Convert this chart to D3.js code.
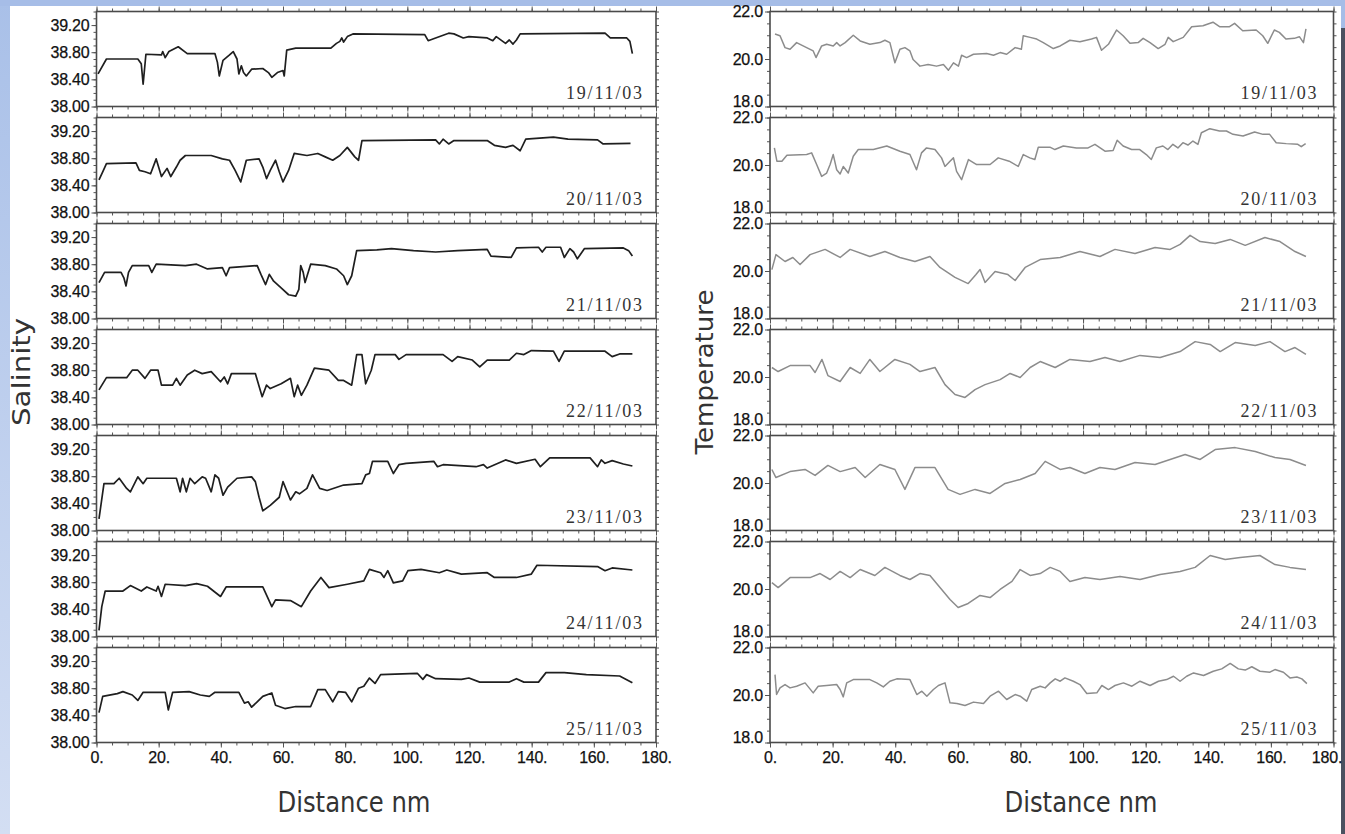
<!DOCTYPE html>
<html><head><meta charset="utf-8">
<script src="https://cdn.jsdelivr.net/npm/d3@7"></script>
<style>html,body{margin:0;padding:0;background:#fff;overflow:hidden}</style>
</head><body>
<svg id="c" width="1345" height="834"></svg>
<script>
// ---------------- DATA ----------------
const dates = ["19/11/03","20/11/03","21/11/03","22/11/03","23/11/03","24/11/03","25/11/03"];
const xTickValues = [0,20,40,60,80,100,120,140,160,180];
const xTickLabels = ["0.","20.","40.","60.","80.","100.","120.","140.","160.","180."];
const salTickValues = [38.0,38.4,38.8,39.2];
const salTickLabels = ["38.00","38.40","38.80","39.20"];
const tempTickValues = [18,20,22];
const tempTickLabels = ["18.0","20.0","22.0"];

// Salinity, [distance nm, salinity]
const sal_19 = [[0.5,38.48],[3.2,38.70],[13.3,38.70],[14.4,38.63],[15.0,38.33],[15.9,38.77],[20.9,38.76],[21.3,38.81],[22.1,38.72],[23.3,38.81],[26.3,38.88],[29.2,38.78],[38.1,38.78],[38.9,38.65],[39.5,38.45],[40.7,38.68],[42.8,38.76],[44.0,38.81],[45.2,38.70],[45.8,38.48],[46.6,38.60],[47.3,38.50],[48.2,38.45],[49.9,38.55],[53.5,38.56],[55.3,38.50],[56.4,38.43],[58.2,38.50],[60.0,38.53],[60.4,38.45],[61.2,38.83],[64.1,38.86],[75.4,38.86],[77.2,38.93],[78.3,38.96],[78.9,39.01],[79.5,38.95],[80.7,39.03],[82.5,39.07],[105.6,39.06],[106.7,38.97],[109.1,39.01],[113.3,39.08],[115.0,39.07],[118.0,39.01],[119.8,39.03],[125.7,39.01],[127.5,38.97],[128.6,39.03],[131.6,38.93],[132.8,38.98],[134.0,38.92],[135.1,38.98],[136.3,39.07],[163.6,39.08],[165.3,39.01],[170.6,39.01],[171.6,38.96],[172.4,38.78]];
const sal_20 = [[0.8,38.48],[2.0,38.60],[3.2,38.72],[12.7,38.73],[13.8,38.62],[15.6,38.60],[17.4,38.57],[19.2,38.79],[20.9,38.53],[22.7,38.65],[23.9,38.53],[25.7,38.67],[26.9,38.77],[28.6,38.84],[36.9,38.84],[40.5,38.79],[42.8,38.77],[44.6,38.62],[46.4,38.45],[48.2,38.77],[52.3,38.79],[53.5,38.67],[54.7,38.50],[55.9,38.62],[57.6,38.77],[58.8,38.60],[60.0,38.45],[61.8,38.62],[63.6,38.87],[67.7,38.84],[71.2,38.87],[73.6,38.82],[76.0,38.77],[78.3,38.84],[80.7,38.96],[83.1,38.82],[84.3,38.77],[85.4,39.06],[109.1,39.07],[110.3,39.01],[111.5,39.08],[113.3,39.01],[115.0,39.06],[125.7,39.06],[128.0,38.99],[131.6,38.96],[134.0,38.99],[136.3,38.91],[138.1,39.08],[147.0,39.11],[151.7,39.08],[161.2,39.07],[163.0,39.01],[171.8,39.02]];
const sal_21 = [[0.8,38.53],[2.6,38.68],[7.9,38.68],[8.8,38.60],[9.5,38.48],[10.3,38.68],[11.5,38.78],[16.8,38.78],[17.8,38.68],[19.2,38.80],[28.6,38.78],[32.2,38.80],[35.7,38.73],[40.5,38.75],[41.7,38.63],[42.8,38.75],[51.7,38.78],[52.9,38.65],[54.4,38.50],[55.6,38.65],[57.0,38.55],[59.4,38.45],[61.8,38.35],[64.1,38.33],[65.1,38.43],[65.7,38.78],[66.5,38.68],[67.1,38.53],[68.9,38.80],[73.6,38.78],[77.2,38.73],[79.5,38.63],[80.7,38.50],[82.1,38.63],[83.7,39.00],[90.2,39.01],[94.9,39.03],[102.0,39.00],[109.1,38.98],[116.2,39.00],[125.7,39.02],[126.9,38.92],[133.4,38.90],[135.1,39.04],[142.2,39.05],[143.4,38.98],[144.6,39.05],[149.3,39.05],[150.5,38.90],[152.3,39.03],[153.5,38.98],[154.7,38.88],[157.0,39.03],[169.5,39.04],[171.2,39.00],[172.4,38.92]];
const sal_22 = [[0.8,38.51],[3.2,38.69],[9.7,38.69],[11.5,38.80],[13.3,38.80],[15.6,38.68],[17.4,38.80],[19.8,38.80],[20.9,38.58],[24.5,38.58],[25.7,38.68],[26.9,38.58],[29.2,38.73],[31.6,38.80],[34.0,38.75],[36.9,38.78],[39.9,38.63],[41.1,38.70],[42.2,38.60],[43.4,38.75],[51.1,38.75],[53.3,38.41],[54.7,38.58],[55.9,38.53],[59.4,38.60],[62.4,38.68],[63.6,38.41],[64.7,38.58],[65.9,38.43],[67.7,38.58],[70.1,38.83],[74.8,38.80],[77.8,38.65],[79.5,38.65],[82.1,38.58],[83.7,39.03],[85.4,39.03],[86.6,38.60],[88.4,38.80],[89.6,39.03],[96.1,39.03],[97.3,38.96],[99.6,39.03],[111.5,39.03],[114.4,38.93],[116.2,39.00],[120.9,38.95],[123.3,38.85],[125.7,38.95],[132.8,38.95],[135.1,39.05],[137.5,39.03],[139.9,39.09],[147.0,39.08],[148.8,38.93],[150.5,39.08],[163.6,39.08],[165.9,39.00],[168.3,39.04],[172.4,39.04]];
const sal_23 = [[0.8,38.17],[2.4,38.69],[5.6,38.69],[7.3,38.77],[9.7,38.62],[10.9,38.57],[13.3,38.79],[15.0,38.69],[16.2,38.77],[25.7,38.77],[26.9,38.57],[27.7,38.77],[28.9,38.57],[30.1,38.77],[31.6,38.69],[34.0,38.79],[35.1,38.77],[36.9,38.57],[38.1,38.82],[39.3,38.77],[40.7,38.52],[42.2,38.64],[45.2,38.77],[49.9,38.79],[51.1,38.72],[52.3,38.49],[53.5,38.29],[55.9,38.37],[58.8,38.49],[60.0,38.72],[62.4,38.45],[64.1,38.57],[65.3,38.54],[67.7,38.62],[69.5,38.82],[71.8,38.62],[74.2,38.59],[79.5,38.67],[85.4,38.69],[86.6,38.82],[87.8,38.84],[88.8,39.02],[93.7,39.02],[95.5,38.84],[97.3,38.97],[99.6,38.99],[108.5,39.02],[109.7,38.94],[111.5,38.97],[122.1,38.94],[124.5,38.97],[125.7,38.92],[129.2,38.99],[131.6,39.04],[135.1,38.99],[141.1,39.05],[142.8,38.94],[145.8,39.07],[158.8,39.07],[161.2,38.94],[162.4,39.04],[163.6,38.99],[165.9,39.03],[169.5,38.98],[172.4,38.95]];
const sal_24 = [[0.8,38.09],[1.7,38.44],[2.8,38.67],[8.5,38.67],[10.9,38.75],[14.4,38.67],[16.2,38.73],[19.2,38.67],[19.8,38.74],[20.9,38.59],[22.1,38.77],[28.6,38.75],[32.2,38.78],[35.7,38.74],[39.9,38.59],[41.7,38.73],[53.5,38.73],[56.4,38.44],[57.6,38.54],[62.4,38.53],[65.9,38.44],[68.9,38.67],[72.2,38.87],[74.8,38.72],[80.7,38.77],[86.0,38.82],[87.8,38.99],[91.4,38.94],[92.5,38.87],[93.7,38.97],[95.5,38.79],[98.5,38.82],[100.2,38.97],[104.4,38.99],[110.3,38.94],[112.7,38.98],[117.4,38.92],[125.7,38.94],[128.0,38.87],[135.1,38.87],[139.9,38.92],[141.7,39.05],[161.2,39.03],[163.6,38.97],[165.9,39.01],[172.4,38.98]];
const sal_25 = [[0.8,38.44],[2.0,38.68],[6.7,38.72],[8.5,38.75],[11.5,38.70],[13.3,38.62],[15.0,38.74],[22.1,38.74],[23.1,38.48],[24.5,38.74],[29.8,38.75],[33.4,38.70],[36.3,38.68],[38.1,38.74],[45.8,38.74],[47.6,38.58],[48.8,38.60],[49.9,38.52],[51.7,38.60],[53.5,38.68],[56.4,38.73],[57.6,38.55],[60.6,38.50],[64.1,38.53],[68.9,38.53],[71.2,38.78],[73.6,38.78],[76.0,38.60],[77.8,38.75],[80.1,38.74],[82.1,38.60],[84.3,38.80],[86.0,38.83],[87.8,38.95],[89.6,38.87],[91.4,39.00],[103.2,39.02],[105.0,38.93],[106.2,39.00],[109.1,38.94],[117.4,38.93],[119.8,38.95],[123.3,38.89],[132.8,38.89],[135.1,38.94],[137.5,38.89],[142.2,38.89],[144.6,39.03],[150.5,39.03],[157.6,39.00],[168.3,38.98],[172.4,38.88]];

// Temperature, [distance nm, temperature]
const temp_19 = [[1.6,21.05],[3.2,20.98],[4.8,20.48],[6.4,20.41],[8.5,20.69],[11.7,20.48],[13.8,20.34],[14.7,20.06],[16.5,20.55],[18.1,20.62],[20.2,20.55],[21.3,20.69],[22.4,20.55],[24.0,20.69],[26.6,21.0],[28.8,20.76],[31.9,20.62],[35.1,20.69],[36.7,20.79],[38.3,20.69],[39.9,19.84],[41.5,20.41],[43.1,20.48],[44.7,20.34],[45.7,19.98],[46.8,19.84],[47.9,19.70],[50.5,19.77],[53.2,19.70],[55.4,19.77],[57.0,19.53],[58.6,19.84],[60.2,19.70],[61.2,20.16],[62.8,20.06],[65.0,20.20],[69.2,20.23],[71.4,20.16],[73.5,20.27],[75.6,20.20],[78.3,20.48],[80.3,20.41],[80.9,20.98],[83.1,20.91],[85.2,20.84],[87.3,20.69],[90.5,20.44],[92.7,20.55],[95.8,20.79],[99.0,20.73],[102.7,20.84],[104.3,20.91],[105.9,20.37],[108.1,20.62],[110.7,21.22],[112.8,20.98],[115.0,20.66],[117.6,20.69],[119.2,20.87],[121.4,20.69],[124.0,20.44],[126.2,20.62],[127.2,20.91],[128.8,20.73],[132.0,20.91],[134.7,21.36],[138.3,21.40],[141.5,21.55],[143.6,21.36],[146.8,21.36],[148.4,21.50],[151.0,21.19],[155.3,21.22],[157.4,20.98],[159.0,20.66],[161.1,21.22],[162.7,21.12],[164.8,20.84],[167.5,20.87],[169.1,20.94],[170.4,20.69],[171.2,21.27]];
const temp_20 = [[1.4,20.72],[2.2,20.16],[3.8,20.16],[5.4,20.41],[11.7,20.44],[13.3,20.51],[14.9,20.02],[16.5,19.52],[18.1,19.66],[19.2,20.02],[20.2,20.44],[21.3,19.80],[22.4,19.62],[23.4,19.94],[25.0,19.66],[26.6,20.37],[28.2,20.65],[33.0,20.65],[37.3,20.80],[41.5,20.58],[44.7,20.44],[46.8,19.80],[48.4,20.51],[50.0,20.72],[52.7,20.65],[54.8,20.30],[55.9,19.94],[57.5,20.16],[58.6,20.30],[59.6,19.73],[61.2,19.38],[63.4,20.23],[66.0,20.02],[70.3,20.02],[72.9,20.30],[76.4,20.16],[79.3,19.94],[80.9,20.44],[83.0,20.30],[84.6,20.23],[85.7,20.75],[89.4,20.75],[91.0,20.65],[93.7,20.80],[97.9,20.72],[101.6,20.72],[103.8,20.87],[107.0,20.58],[109.6,20.61],[110.9,21.04],[112.8,20.80],[115.5,20.65],[118.1,20.65],[120.2,20.44],[121.8,20.23],[123.4,20.72],[125.5,20.80],[127.1,20.65],[128.7,20.87],[130.3,20.72],[131.9,20.94],[133.5,20.84],[135.1,21.01],[136.7,20.87],[137.8,21.36],[140.5,21.53],[143.6,21.43],[145.8,21.43],[147.9,21.29],[151.1,21.22],[154.8,21.39],[157.5,21.29],[159.6,21.29],[161.7,20.94],[164.9,20.90],[168.6,20.87],[169.7,20.77],[171.1,20.90]];
const temp_21 = [[0.6,20.06],[1.9,20.69],[4.8,20.40],[7.3,20.57],[9.6,20.27],[12.8,20.69],[17.6,20.91],[22.4,20.57],[25.6,20.91],[31.9,20.61],[36.7,20.82],[41.5,20.57],[46.3,20.40],[51.1,20.61],[54.3,20.15],[59.1,19.73],[63.3,19.47],[65.8,19.85],[67.1,20.06],[68.7,19.52],[71.9,19.98],[76.0,19.85],[78.3,19.60],[81.5,20.15],[86.3,20.48],[92.7,20.57],[99.0,20.82],[105.4,20.61],[110.2,20.91],[116.6,20.74],[123.0,20.99],[127.8,20.91],[131.0,21.12],[134.2,21.50],[137.4,21.24],[142.2,21.16],[147.0,21.33],[151.8,21.08],[158.1,21.41],[162.9,21.24],[167.7,20.82],[171.2,20.61]];
const temp_22 = [[0.6,20.40],[2.6,20.23],[6.4,20.48],[12.8,20.48],[14.4,20.19],[16.6,20.74],[18.5,20.06],[22.4,19.81],[25.6,20.40],[28.8,20.15],[31.9,20.74],[35.1,20.23],[39.9,20.74],[44.7,20.53],[47.9,20.23],[52.7,20.40],[55.9,19.68],[59.1,19.26],[62.3,19.14],[65.5,19.47],[68.7,19.68],[73.5,19.89],[76.7,20.15],[79.9,19.98],[83.1,20.40],[86.3,20.65],[91.1,20.40],[95.8,20.74],[102.2,20.65],[107.0,20.82],[111.8,20.65],[118.2,20.91],[124.6,20.82],[131.0,21.07],[135.8,21.49],[140.6,21.37],[143.8,21.07],[148.6,21.45],[155.0,21.33],[159.7,21.49],[164.5,21.07],[167.7,21.24],[171.2,20.95]];
const temp_23 = [[0.6,20.57],[1.9,20.23],[6.4,20.48],[11.2,20.57],[14.4,20.32],[18.5,20.74],[22.4,20.48],[27.2,20.65],[30.4,20.23],[35.1,20.78],[39.9,20.57],[43.1,19.73],[46.3,20.65],[52.7,20.65],[56.9,19.73],[60.7,19.52],[65.5,19.73],[70.3,19.56],[75.1,19.98],[79.9,20.15],[84.7,20.40],[87.9,20.91],[92.7,20.57],[95.8,20.65],[100.6,20.40],[105.4,20.65],[110.2,20.57],[116.6,20.86],[123.0,20.78],[127.8,20.99],[132.6,21.20],[137.4,20.99],[142.2,21.41],[148.6,21.49],[155.0,21.33],[161.3,21.07],[166.1,20.99],[171.2,20.74]];
const temp_24 = [[0.6,20.27],[2.6,20.06],[6.4,20.48],[12.8,20.48],[16.0,20.65],[19.2,20.40],[22.4,20.74],[25.6,20.48],[28.8,20.82],[33.5,20.57],[36.7,20.91],[41.5,20.57],[44.7,20.40],[47.9,20.65],[51.1,20.57],[54.3,20.06],[57.5,19.56],[60.1,19.22],[63.3,19.39],[67.1,19.73],[70.3,19.64],[73.5,19.98],[77.3,20.32],[79.9,20.82],[83.1,20.57],[86.3,20.65],[89.5,20.91],[92.7,20.74],[95.8,20.32],[100.6,20.48],[105.4,20.40],[111.8,20.53],[118.2,20.40],[124.6,20.61],[131.0,20.74],[135.8,20.91],[140.6,21.41],[145.4,21.24],[150.2,21.33],[156.5,21.41],[161.3,21.03],[166.1,20.91],[171.2,20.82]];
const temp_25 = [[1.6,20.86],[2.1,20.02],[3.2,20.30],[4.8,20.44],[6.4,20.30],[8.5,20.37],[11.2,20.51],[13.8,20.09],[15.4,20.37],[18.1,20.40],[21.3,20.44],[22.4,20.23],[23.4,19.92],[24.5,20.51],[26.6,20.65],[31.9,20.65],[34.1,20.51],[36.2,20.34],[38.3,20.58],[40.5,20.68],[44.7,20.65],[46.9,20.02],[48.5,20.16],[50.1,19.95],[52.2,20.23],[53.8,20.40],[55.9,20.51],[57.5,19.67],[59.7,19.64],[62.3,19.56],[65.0,19.70],[68.2,19.64],[70.3,19.95],[73.0,20.16],[75.6,19.81],[78.3,20.02],[79.9,19.95],[82.0,19.74],[83.6,20.23],[86.3,20.37],[87.9,20.30],[89.5,20.51],[91.1,20.68],[92.7,20.58],[94.2,20.72],[96.9,20.58],[99.0,20.44],[101.2,20.06],[104.4,20.09],[106.0,20.40],[108.1,20.23],[110.2,20.40],[112.9,20.51],[115.6,20.37],[118.2,20.58],[121.4,20.40],[124.1,20.58],[126.7,20.65],[128.9,20.79],[131.0,20.58],[133.1,20.79],[135.3,20.93],[138.5,20.82],[141.6,21.00],[144.3,21.10],[147.0,21.33],[149.6,21.10],[151.8,21.05],[153.9,21.19],[156.5,21.00],[159.7,20.96],[161.3,21.07],[164.0,20.96],[166.1,20.72],[168.3,20.76],[169.9,20.68],[171.5,20.48]];

const salSeries = [sal_19, sal_20, sal_21, sal_22, sal_23, sal_24, sal_25];
const tempSeries = [temp_19, temp_20, temp_21, temp_22, temp_23, temp_24, temp_25];

// ---------------- DRAWING ----------------
const W = 1345, H = 834;
const svg = d3.select("#c");
const defs = svg.append("defs");
const lg = defs.append("linearGradient").attr("id","lblue").attr("x1",0).attr("y1",0).attr("x2",0).attr("y2",1);
lg.append("stop").attr("offset","0%").attr("stop-color","#a9c0e8");
lg.append("stop").attr("offset","100%").attr("stop-color","#d3def3");
svg.append("rect").attr("x",0).attr("y",0).attr("width",W).attr("height",H).attr("fill","#fff");
svg.append("rect").attr("x",0).attr("y",0).attr("width",10).attr("height",H).attr("fill","url(#lblue)");
svg.append("rect").attr("x",0).attr("y",0).attr("width",W).attr("height",6).attr("fill","#a6bde7");
svg.append("rect").attr("x",1341).attr("y",6).attr("width",4).attr("height",H).attr("fill","#4b5160");
svg.append("rect").attr("x",1341).attr("y",0).attr("width",4).attr("height",28).attr("fill","#a6bde7");

const PANEL_TOP = 11.5, PANEL_H = 95, PANEL_STEP = 106;
const tickFont = "'Liberation Sans', Arial, sans-serif";

function drawChart(opts) {
  const x = d3.scaleLinear().domain([0,180]).range([opts.x0, opts.x1]);
  const g = svg.append("g");
  opts.series.forEach((data, i) => {
    const top = PANEL_TOP + i*PANEL_STEP, bot = top + PANEL_H;
    const y = d3.scaleLinear().domain(opts.yDomain).range([bot, top]);
    const p = g.append("g");
    const styleAxis = sel => { sel.select(".domain").remove(); sel.selectAll("line").attr("stroke","#555").attr("stroke-width",1); sel.selectAll("text").remove(); };
    const xMinor = d3.range(0,181,5);
    p.append("g").attr("transform",`translate(0,${top})`).call(d3.axisTop(x).tickValues(xMinor).tickSize(3)).call(styleAxis);
    p.append("g").attr("transform",`translate(0,${top})`).call(d3.axisTop(x).tickValues(xTickValues).tickSize(5)).call(styleAxis);
    p.append("g").attr("transform",`translate(0,${bot})`).call(d3.axisBottom(x).tickValues(xMinor).tickSize(3)).call(styleAxis);
    p.append("g").attr("transform",`translate(0,${bot})`).call(d3.axisBottom(x).tickValues(xTickValues).tickSize(5)).call(styleAxis);
    p.append("g").attr("transform",`translate(${opts.x0},0)`).call(d3.axisLeft(y).tickValues(opts.yMinor).tickSize(3)).call(styleAxis);
    p.append("g").attr("transform",`translate(${opts.x1},0)`).call(d3.axisRight(y).tickValues(opts.yMinor).tickSize(3)).call(styleAxis);
    const la = p.append("g").attr("transform",`translate(${opts.x0},0)`)
      .call(d3.axisLeft(y).tickValues(opts.yTicks).tickSize(5).tickPadding(2).tickFormat((d,k)=>opts.yLabels[k]));
    la.select(".domain").remove();
    la.selectAll("line").attr("stroke","#555");
    la.selectAll("text").attr("font-family",tickFont).attr("font-size",16)
      .attr("fill","#111").attr("stroke","#111").attr("stroke-width",0.25).attr("letter-spacing","-0.2px")
      .attr("dy", d => (opts.lowShift && d === opts.yDomain[0]) ? "0em" : "0.34em");
    p.append("rect").attr("x",opts.x0).attr("y",top).attr("width",opts.x1-opts.x0).attr("height",PANEL_H)
      .attr("fill","none").attr("stroke","#4a4a4a").attr("stroke-width",1.6);
    const line = d3.line().x(d=>x(d[0])).y(d=>y(d[1]));
    p.append("path").datum(data).attr("d",line).attr("fill","none")
      .attr("stroke",opts.color).attr("stroke-width",opts.width).attr("stroke-linejoin","round");
    p.append("text").attr("x",opts.x1-opts.dateInset).attr("y",bot-8).attr("text-anchor","end")
      .attr("font-family","'Liberation Serif','Times New Roman',serif").attr("font-size",18)
      .attr("fill","#333").attr("textLength",76).attr("lengthAdjust","spacing").text(dates[i]);
    if (i === opts.series.length-1) {
      const ba = p.append("g").attr("transform",`translate(0,${bot})`)
        .call(d3.axisBottom(x).tickValues(xTickValues).tickSize(0).tickPadding(9).tickFormat((d,k)=>xTickLabels[k]));
      ba.select(".domain").remove();
      ba.selectAll("text").attr("font-family",tickFont).attr("font-size",16)
        .attr("fill","#111").attr("stroke","#111").attr("stroke-width",0.25).attr("letter-spacing","-0.2px")
        .attr("dx", d => d === 180 ? opts.lastDx : 0);
    }
  });
  svg.append("text").attr("transform",`translate(${opts.titleX},${opts.titleY}) rotate(-90)`)
    .attr("text-anchor","middle").attr("font-family","'DejaVu Sans',sans-serif").attr("font-size",24)
    .attr("fill","#333").attr("textLength",opts.titleLen).attr("lengthAdjust","spacingAndGlyphs").text(opts.title);
  svg.append("text").attr("x",opts.xtX).attr("y",812).attr("text-anchor","middle")
    .attr("font-family","'DejaVu Sans',sans-serif").attr("font-size",29)
    .attr("fill","#333").attr("textLength",153).attr("lengthAdjust","spacingAndGlyphs").text("Distance nm");
}

drawChart({series: salSeries, x0: 96.5, x1: 656, yDomain: [38.0, 39.4], yMinor: d3.range(0,15).map(k=>38+k*0.1),
  yTicks: salTickValues, yLabels: salTickLabels, color: "#1f1f1f", width: 1.7, dateInset: 14, lowShift: false, lastDx: 0,
  title: "Salinity", titleX: 30, titleY: 372, titleLen: 108, xtX: 354});
drawChart({series: tempSeries, x0: 770, x1: 1333.5, yDomain: [18, 22], yMinor: d3.range(0,9).map(k=>18+k*0.5),
  yTicks: tempTickValues, yLabels: tempTickLabels, color: "#8c8c8c", width: 1.5, dateInset: 17, lowShift: true, lastDx: -7,
  title: "Temperature", titleX: 713, titleY: 372, titleLen: 165, xtX: 1081});
</script>
</body></html>
